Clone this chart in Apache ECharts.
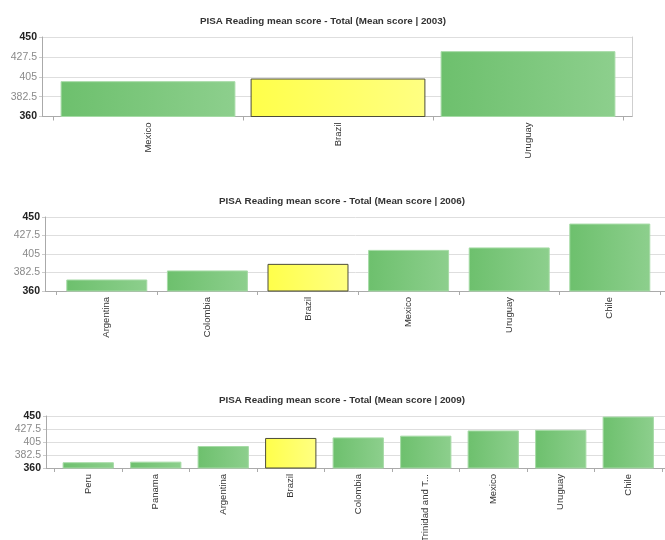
<!DOCTYPE html>
<html>
<head>
<meta charset="utf-8">
<script src="https://cdn.jsdelivr.net/npm/echarts@6/dist/echarts.min.js"></script>
<style>
html,body{margin:0;padding:0;background:#fff;}
#c{width:665px;height:540px;}
</style>
</head>
<body>
<div id="c"></div>
<script>
// ---- data ----
const titles = [
  'PISA Reading mean score - Total (Mean score | 2003)',
  'PISA Reading mean score - Total (Mean score | 2006)',
  'PISA Reading mean score - Total (Mean score | 2009)'
];
const cats2003 = ['Mexico', 'Brazil', 'Uruguay'];
const vals2003 = [400, 403, 434];
const cats2006 = ['Argentina', 'Colombia', 'Brazil', 'Mexico', 'Uruguay', 'Chile'];
const vals2006 = [374, 385, 393, 410, 413, 442];
const cats2009 = ['Peru', 'Panama', 'Argentina', 'Brazil', 'Colombia', 'Trinidad and Tobago', 'Mexico', 'Uruguay', 'Chile'];
const vals2009 = [370, 371, 398, 412, 413, 416, 425, 426, 449];
const yTicks = [360, 382.5, 405, 427.5, 450];
const highlight = 'Brazil';

// ---- layout (styles / positions) ----
const panels = [
  {cats: cats2003, vals: vals2003, title: titles[0], titleX: 318, titleTop: 11,
   aLeft: 42, aRight: 632, top: 37, bottom: 116.5, bLeft: 53, bWidth: 570, gap: '8%'},
  {cats: cats2006, vals: vals2006, title: titles[1], titleX: 337, titleTop: 191,
   aLeft: 45, aRight: 671, top: 217, bottom: 291, bLeft: 56.5, bWidth: 603.6, gap: '19.5%'},
  {cats: cats2009, vals: vals2009, title: titles[2], titleX: 337, titleTop: 390,
   aLeft: 46, aRight: 671, top: 416, bottom: 468, bLeft: 54.5, bWidth: 607.5, gap: '24%'}
];
const W = 665, H = 540;
const FONT = 'Liberation Sans, Arial, sans-serif';

const green = {type: 'linear', x: 0, y: 0, x2: 1, y2: 0,
  colorStops: [{offset: 0, color: '#6dc06d'}, {offset: 1, color: '#8dcf8d'}]};
const yellow = {type: 'linear', x: 0, y: 0, x2: 1, y2: 0,
  colorStops: [{offset: 0, color: '#ffff4a'}, {offset: 1, color: '#ffff82'}]};

const option = {
  animation: false,
  backgroundColor: '#fff',
  title: [], grid: [], xAxis: [], yAxis: [], series: []
};

panels.forEach((p, k) => {
  option.title.push({
    text: p.title, left: p.titleX, top: p.titleTop, textAlign: 'center',
    textStyle: {fontFamily: FONT, fontSize: 9.8, fontWeight: 'bold', color: '#333'}
  });
  const gA = option.grid.length;
  option.grid.push({left: p.aLeft, width: p.aRight - p.aLeft, top: p.top, height: p.bottom - p.top,
    containLabel: false, outerBoundsMode: 'none'});
  const gB = option.grid.length;
  option.grid.push({left: p.bLeft, width: p.bWidth, top: p.top, height: p.bottom - p.top,
    containLabel: false, outerBoundsMode: 'none'});

  // grid A: frame, y labels, gridlines
  option.xAxis.push({type: 'value', gridIndex: gA, min: 0, max: 1,
    axisLine: {show: true, onZero: false, lineStyle: {color: '#aaa', width: 1}},
    axisTick: {show: false}, axisLabel: {show: false}, splitLine: {show: false}});
  option.yAxis.push({type: 'value', gridIndex: gA, min: yTicks[0], max: yTicks[yTicks.length - 1],
    interval: yTicks[1] - yTicks[0],
    axisLine: {show: true, lineStyle: {color: '#aaa'}},
    axisTick: {show: true, length: 3, lineStyle: {color: '#ccc'}},
    splitLine: {show: true, lineStyle: {color: '#dedede', width: 1}},
    axisLabel: {margin: 5,
      formatter: v => (v === yTicks[0] || v === yTicks[yTicks.length - 1]) ? '{b|' + v + '}' : '{n|' + v + '}',
      rich: {
        b: {fontFamily: FONT, fontSize: 10.5, fontWeight: 'bold', color: '#222'},
        n: {fontFamily: FONT, fontSize: 10.5, color: '#8a8a8a'}
      }}
  });
  option.yAxis.push({type: 'value', gridIndex: gA, position: 'right', min: yTicks[0], max: yTicks[yTicks.length - 1],
    axisLine: {show: true, lineStyle: {color: '#cfcfcf'}}, axisTick: {show: false}, axisLabel: {show: false}, splitLine: {show: false}});

  // grid B: categories + bars
  const xB = option.xAxis.length;
  option.xAxis.push({type: 'category', gridIndex: gB, data: p.cats,
    axisLine: {show: false},
    axisTick: {show: true, length: 4, lineStyle: {color: '#aaa'}},
    axisLabel: {rotate: 90, margin: 6, interval: 0,
      fontFamily: FONT, fontSize: 9.5, color: '#333',
      formatter: s => s.length > 16 ? s.slice(0, 14) + '...' : s}
  });
  const yB = option.yAxis.length;
  option.yAxis.push({type: 'value', gridIndex: gB, min: yTicks[0], max: yTicks[yTicks.length - 1],
    show: false, splitLine: {show: false}});

  option.series.push({
    type: 'bar', xAxisIndex: xB, yAxisIndex: yB, barCategoryGap: p.gap,
    data: p.vals.map((v, i) => ({
      value: v,
      itemStyle: p.cats[i] === highlight
        ? {color: yellow, borderColor: '#4d4d3a', borderWidth: 1}
        : {color: green, borderColor: '#a6dba6', borderWidth: 1}
    }))
  });
});

const chart = echarts.init(document.getElementById('c'), null, {renderer: 'canvas', width: W, height: H});
chart.setOption(option);
</script>
</body>
</html>
